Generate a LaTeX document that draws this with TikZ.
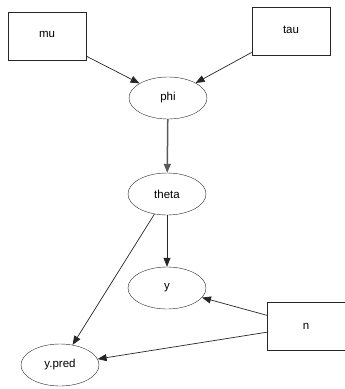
\documentclass[tikz,border=0pt]{standalone}
\usepackage{fontspec}
\setmainfont{Liberation Sans}
\usetikzlibrary{shapes.geometric,arrows.meta}

\begin{document}
\begin{tikzpicture}[x=1pt,y=-1pt,
	stoch/.style={draw=black!85,ellipse,minimum width=78pt,minimum height=42pt,inner sep=0pt,font=\fontsize{11.5}{12}\selectfont},
	const/.style={draw=black!85,rectangle,minimum width=78pt,minimum height=48pt,inner sep=0pt,font=\fontsize{11.5}{12}\selectfont},
	link/.style={draw=black!85,line width=0.7pt,-{Triangle[length=9pt,width=7pt]}}]
	\useasboundingbox (0,0) rectangle (345,389);
	\node[const] (mu) at (47,36) {\raisebox{3pt}{mu}};
	\node[const] (tau) at (291,31) {\raisebox{3pt}{tau}};
	\node[stoch] (phi) at (168,98) {phi};
	\node[stoch] (theta) at (167,194) {theta};
	\node[stoch] (y) at (167,288) {y};
	\node[stoch] (ypred) at (60,365) {y.pred};
	\node[const] (n) at (306,326) {n};
	\draw[link] (mu) -- (phi);
	\draw[link] (tau) -- (phi);
	\draw[link,line width=1.5pt,draw=black!65] (phi) -- (theta);
	\draw[link] (theta) -- (y);
	\draw[link] (theta) -- (ypred);
	\draw[link] (n) -- (y);
	\draw[link] (n) -- (ypred);
\end{tikzpicture}
\end{document}
